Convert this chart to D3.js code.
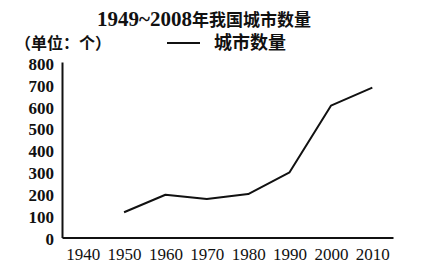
<!DOCTYPE html>
<html>
<head>
<meta charset="utf-8">
<script src="https://cdn.jsdelivr.net/npm/d3@7"></script>
<style>
  body { margin: 0; background: #fff; }
  svg { display: block; }
</style>
</head>
<body>
<div id="chart"></div>
<script>
const w = 421;
const h = 273;

//Values
const years = [1950, 1960, 1970, 1980, 1990, 2000, 2010];
const cityCounts = [115, 195, 176, 198, 297, 601, 683];
const xTicks = [1940, 1950, 1960, 1970, 1980, 1990, 2000, 2010];
const yTicks = [0, 100, 200, 300, 400, 500, 600, 700, 800];
const titleNum = "1949~2008";
const titleText = "年我国城市数量";
const unitText = "（单位：个）";
const legendText = "城市数量";

const serif = "'Liberation Serif', 'DejaVu Serif', serif";
const cjk = "'Noto Sans CJK SC', sans-serif";
const ink = "#111";

const svg = d3.select("#chart").append("svg").attr("width", w).attr("height", h);

const plotLeft = 62;
const plotRight = 393;
const plotTop = 62;
const plotBottom = 237.5;

const xScale = d3.scaleLinear().domain([1935, 2015]).range([plotLeft, plotRight]);
const yScale = d3.scaleLinear().domain([0, 800]).range([plotBottom, plotTop]);

//Title
const title = svg.append("text")
  .attr("x", 97)
  .attr("y", 26)
  .attr("fill", ink);
title.append("tspan")
  .attr("font-family", serif)
  .attr("font-size", 21)
  .attr("font-weight", "bold")
  .text(titleNum);
title.append("tspan")
  .attr("font-family", cjk)
  .attr("font-size", 17)
  .attr("font-weight", "bold")
  .text(titleText);

//Unit label
svg.append("text")
  .attr("x", 15)
  .attr("y", 49)
  .attr("font-family", cjk)
  .attr("font-size", 16)
  .attr("font-weight", "bold")
  .attr("fill", ink)
  .text(unitText);

//Legend
svg.append("line")
  .attr("x1", 167).attr("x2", 200)
  .attr("y1", 43).attr("y2", 43)
  .attr("stroke", ink)
  .attr("stroke-width", 2);
svg.append("text")
  .attr("x", 214)
  .attr("y", 49)
  .attr("font-family", cjk)
  .attr("font-size", 18)
  .attr("font-weight", "bold")
  .attr("fill", ink)
  .text(legendText);

//Axes
const yAxis = d3.axisLeft(yScale).tickValues(yTicks).tickSize(0).tickPadding(8);
const xAxis = d3.axisBottom(xScale).tickValues(xTicks).tickSize(0).tickPadding(10)
  .tickFormat(d3.format("d"));

const gy = svg.append("g")
  .attr("transform", `translate(${plotLeft}, 0)`)
  .call(yAxis);
gy.select(".domain").attr("stroke", ink).attr("stroke-width", 2);
gy.selectAll("text")
  .attr("font-family", serif)
  .attr("font-size", 17)
  .attr("font-weight", "bold")
  .attr("fill", ink)
  .attr("dy", "0.42em");

const gx = svg.append("g")
  .attr("transform", `translate(0, ${plotBottom})`)
  .call(xAxis);
gx.select(".domain").attr("stroke", ink).attr("stroke-width", 2);
gx.selectAll("text")
  .attr("font-family", serif)
  .attr("font-size", 17)
  .attr("fill", ink);

//Line
const line = d3.line()
  .x((d, i) => xScale(years[i]))
  .y((d) => yScale(d));

svg.append("path")
  .datum(cityCounts)
  .attr("fill", "none")
  .attr("stroke", ink)
  .attr("stroke-width", 2)
  .attr("stroke-linejoin", "round")
  .attr("d", line);
</script>
</body>
</html>
